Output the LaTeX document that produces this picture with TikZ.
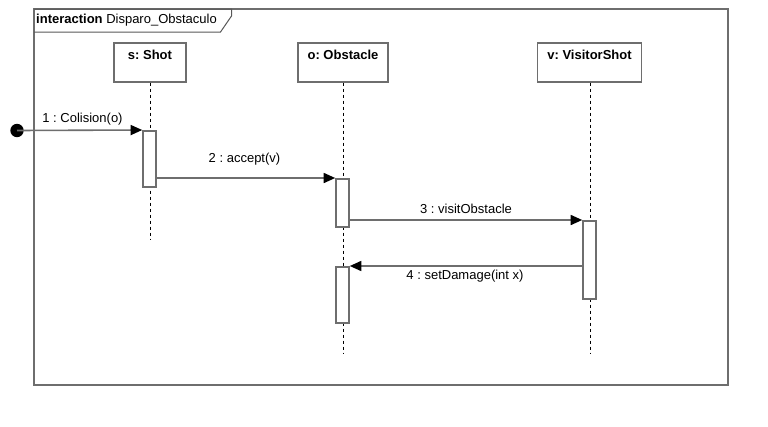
\documentclass[tikz,border=0pt]{standalone}
\usepackage{fontspec}
\setmainfont{Liberation Sans}
\usetikzlibrary{arrows.meta}
\definecolor{linegray}{RGB}{110,110,110}
\frenchspacing
\tikzset{
  every node/.style={font=\fontsize{13pt}{15pt}\selectfont, inner sep=0pt},
  lifebox/.style={draw=linegray, line width=1.6pt, fill=white, minimum height=39pt, anchor=north},
  headlabel/.style={font=\fontsize{13pt}{15pt}\selectfont\bfseries, anchor=center},
  lifeline/.style={draw=black, line width=0.8pt, dash pattern=on 3pt off 3pt},
  actbar/.style={draw=linegray, line width=1.6pt, fill=white, minimum width=13pt, anchor=north},
  msg/.style={draw=linegray, line width=1.6pt, -{Triangle[length=11.5pt,width=10pt,fill=black,color=black]}},
  msglabel/.style={text=black, anchor=center}
}
\begin{document}
\frenchspacing
\begin{tikzpicture}[x=1pt,y=-1pt]
\useasboundingbox (0,0) rectangle (768,426);
\fill[white] (0,0) rectangle (768,426);
% frame
\draw[linegray, line width=1.6pt] (34,9) rectangle (728,385);
\draw[linegray!80!black, line width=1pt] (34,9) -- (231.5,9) -- (231.5,16) -- (220.5,32) -- (34,32);
\node[anchor=west] (title) at (36,20.5) {\textbf{interaction} Disparo\_Obstaculo};

% lifeline heads
\node[lifebox, minimum width=72pt] (shot) at (150,42) {};
\node[lifebox, minimum width=90pt] (obst) at (343,42) {};
\node[lifebox, minimum width=104pt] (vis) at (589.5,42) {};
\node[headlabel] (shotlbl) at (150,54.5) {s: Shot};
\node[headlabel] (obstlbl) at (343,54.5) {o: Obstacle};
\node[headlabel] (vislbl) at (589.5,54.5) {v: VisitorShot};

% lifeline ends
\coordinate (shotend) at (150,240);
\coordinate (obstend) at (343,353);
\coordinate (visend) at (590,353);
\draw[lifeline] (shot.south) -- (shotend);
\draw[lifeline] (obst.south) -- (obstend);
\draw[lifeline] (vis.south -| visend) -- (visend);

% activation bars
\node[actbar, minimum height=56pt] (shotact) at (149.5,130) {};
\node[actbar, minimum height=48pt] (obstact1) at (342.5,178) {};
\node[actbar, minimum height=78pt] (visact) at (589.5,220) {};
\node[actbar, minimum height=56pt] (obstact2) at (342.5,266) {};

% start point
\coordinate (startc) at (17,130.5);
\fill[black] (startc) circle (6.7pt);

% messages
\draw[msg] (startc) -- (shotact.north west);
\node[msglabel] (m1) at (82.5,119) {1 : Colision(o)};

\draw[msg] (shotact.east |- 0,178) -- (obstact1.north west);
\node[msglabel] (m2) at (244.5,159.5) {2 : accept(v)};

\draw[msg] (obstact1.east |- 0,220) -- (visact.north west);
\node[msglabel] (m3) at (466,209) {3 : visitObstacle};

\draw[msg] (visact.west |- 0,266) -- (obstact2.north east);
\node[msglabel] (m4) at (465,276.5) {4 : setDamage(int x)};
\end{tikzpicture}
\end{document}
